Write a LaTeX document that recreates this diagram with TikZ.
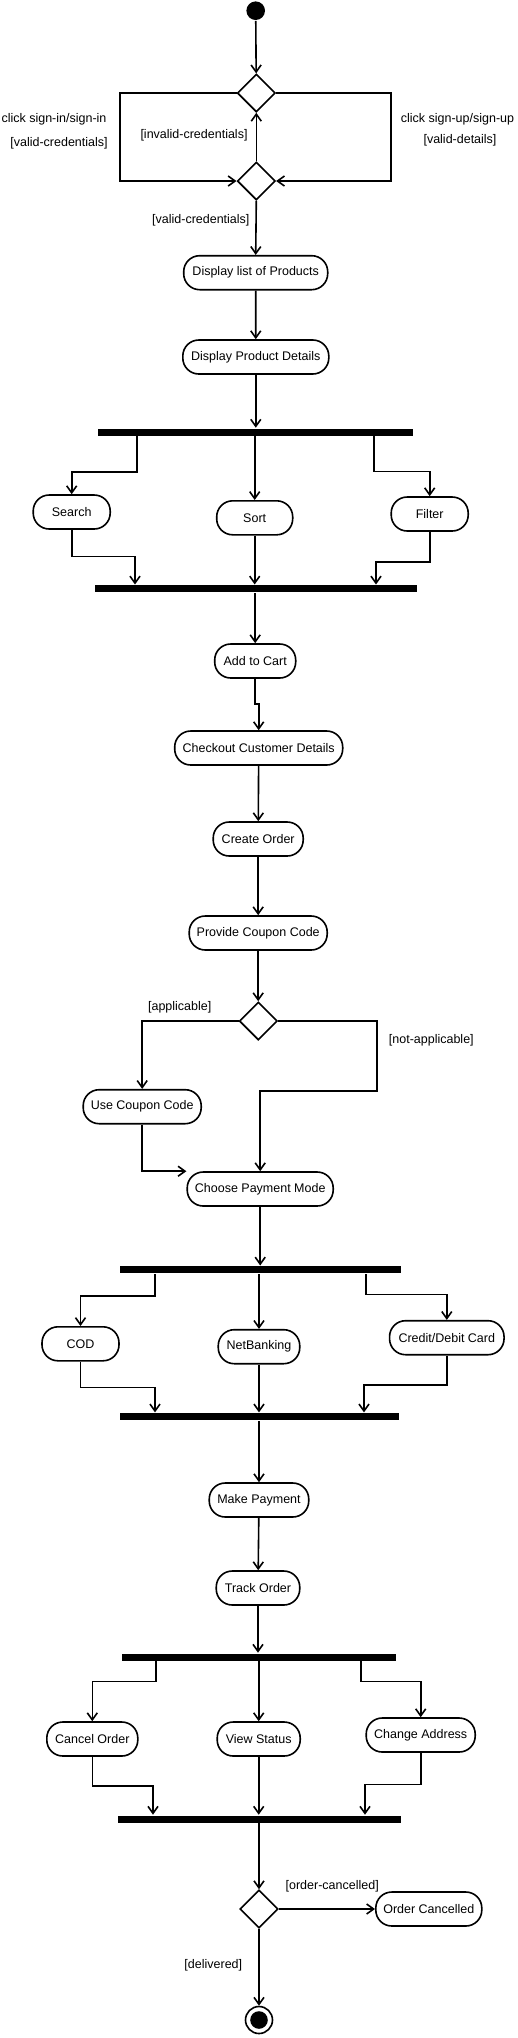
\documentclass[tikz,border=0pt]{standalone}
\usepackage{fontspec}
\setmainfont{Liberation Sans}
\usetikzlibrary{positioning, arrows.meta, shapes.geometric}

\tikzset{
    txt/.style={font=\fontsize{12.5}{15}\selectfont},
    activity/.style={txt, draw, rectangle, rounded corners=16pt, minimum height=34pt, inner sep=2pt},
    decision/.style={draw, diamond, minimum width=38pt, minimum height=38pt, inner sep=0pt},
    syncbar/.style={fill, minimum height=7pt, inner sep=0pt},
    guardtext/.style={txt, inner sep=0pt},
    startnode/.style={circle, fill, minimum size=18.6pt, inner sep=0pt},
    endnode/.style={circle, draw, minimum size=27pt, inner sep=0pt,
        path picture={\fill (path picture bounding box.center) circle (8.8pt);}},
    >={Straight Barb[length=7pt,width=10pt]}
}

\begin{document}
\begin{tikzpicture}[x=1pt, y=-1pt, line width=1.6pt]
    \useasboundingbox (0,0) rectangle (518,2038);

    % login
    \node[startnode] (start) at (255.7,10.7) {};
    \node[decision] (d1) at (256.3,93) {};
    \node[decision] (d2) at (256.3,181) {};
    \node[guardtext] (lsin) at (54,119.3) {click sign-in/sign-in};
    \node[guardtext] (lsinv) at (59,143.3) {[valid-credentials]};
    \node[guardtext] (lsup) at (457.5,119.3) {click sign-up/sign-up};
    \node[guardtext] (lsupv) at (460,140.3) {[valid-details]};
    \node[guardtext] (linv) at (194,135.7) {[invalid-credentials]};
    \node[guardtext] (lval) at (200.8,220.3) {[valid-credentials]};

    % products
    \node[activity, minimum width=144pt] (dlp) at (255.7,272.7) {Display list of Products};
    \node[activity, minimum width=146pt] (dpd) at (255.8,357) {Display Product Details};
    \node[syncbar, minimum width=314.4pt] (fork1) at (255.5,432) {};
    \node[activity, minimum width=77pt] (search) at (71.7,512) {Search};
    \node[activity, minimum width=76pt] (sort) at (254.7,517.8) {Sort};
    \node[activity, minimum width=77pt] (filter) at (429.7,514) {Filter};
    \node[syncbar, minimum width=321.4pt] (join1) at (256,588.8) {};

    % order
    \node[activity, minimum width=81pt] (cart) at (255.2,661) {Add to Cart};
    \node[activity, minimum width=168pt] (checkout) at (258.7,748) {Checkout Customer Details};
    \node[activity, minimum width=90pt] (create) at (258.2,839) {Create Order};
    \node[activity, minimum width=138pt] (provide) at (258.2,933) {Provide Coupon Code};
    \node[decision] (d3) at (258.3,1021) {};
    \node[guardtext] (lapp) at (179.7,1007.3) {[applicable]};
    \node[guardtext] (lnapp) at (431.3,1040.3) {[not-applicable]};
    \node[activity, minimum width=118pt] (ucc) at (142.2,1106.7) {Use Coupon Code};
    \node[activity, minimum width=146pt] (cpm) at (260.2,1189) {Choose Payment Mode};

    % payment
    \node[syncbar, minimum width=280.7pt] (fork2) at (260.3,1269.8) {};
    \node[activity, minimum width=77pt] (cod) at (80.5,1343.8) {COD};
    \node[activity, minimum width=81.5pt] (nb) at (259,1346.7) {NetBanking};
    \node[activity, minimum width=114.5pt] (card) at (446.8,1337.7) {Credit/Debit Card};
    \node[syncbar, minimum width=278.7pt] (join2) at (259.3,1416.7) {};
    \node[activity, minimum width=99.5pt] (pay) at (259,1500) {Make Payment};
    \node[activity, minimum width=83.5pt] (track) at (258,1588) {Track Order};

    % tracking
    \node[syncbar, minimum width=273.4pt] (fork3) at (259,1657) {};
    \node[activity, minimum width=91pt] (cancel) at (92.3,1739) {Cancel Order};
    \node[activity, minimum width=83pt] (view) at (258.7,1739) {View Status};
    \node[activity, minimum width=109pt] (change) at (420.7,1735) {Change Address};
    \node[syncbar, minimum width=282.4pt] (join3) at (259.5,1819) {};
    \node[decision] (d4) at (259,1909) {};
    \node[activity, minimum width=106pt] (cancelled) at (428.8,1909) {Order Cancelled};
    \node[guardtext] (lcanc) at (332.2,1886.7) {[order-cancelled]};
    \node[guardtext] (ldel) at (213.3,1965) {[delivered]};
    \node[endnode] (end) at (259,2020) {};

    \draw[->] (start) -- (d1);
    \draw[->] (d1.west) -- ++(-116.6,0) |- (d2.west);
    \draw[->] (d1.east) -- ++(114.7,0) |- (d2.east);
    \draw[->] (d2.north) -- (d1.south);
    \draw[->] (d2.south) -- (dlp.north);
    \draw[->] (dlp) -- (dpd);
    \draw[->] (dpd.south) -- (dpd.south |- fork1.north);

    \draw[->] ([xshift=-118.8pt]fork1.south) -- ++(0,35.6) -| (search.north);
    \draw[->] (sort.north |- fork1.south) -- (sort.north);
    \draw[->] ([xshift=118.2pt]fork1.south) -- ++(0,35) -| (filter.north);
    \draw[->] (search.south) -- ++(0,26.6) -| ([xshift=-121pt]join1.north);
    \draw[->] (sort.south) -- (sort.south |- join1.north);
    \draw[->] (filter.south) -- ++(0,30) -| ([xshift=120pt]join1.north);
    \draw[->] (cart.north |- join1.south) -- (cart.north);

    \draw[->] (cart.south) -- ++(0,25.3) -| (checkout.north);
    \draw[->] (checkout) -- (create);
    \draw[->] (create) -- (provide);
    \draw[->] (provide.south) -- (provide.south |- d3.north);
    \draw[->] (d3.west) -| (ucc.north);
    \draw[->] (d3.east) -- ++(98.7,0) -- ++(0,69.7) -| (cpm.north);
    \draw[->] (ucc.south) |- (cpm.north west);

    \draw[->] (cpm.south) -- (cpm.south |- fork2.north);
    \draw[->] ([xshift=-105.3pt]fork2.south) -- ++(0,21.7) -| (cod.north);
    \draw[->] (nb.north |- fork2.south) -- (nb.north);
    \draw[->] ([xshift=105.7pt]fork2.south) -- ++(0,20.4) -| (card.north);
    \draw[->] (cod.south) -- ++(0,26) -| ([xshift=-104.3pt]join2.north);
    \draw[->] (nb.south) -- (nb.south |- join2.north);
    \draw[->] (card.south) -- ++(0,29.6) -| ([xshift=104.7pt]join2.north);
    \draw[->] (pay.north |- join2.south) -- (pay.north);
    \draw[->] (pay) -- (track);

    \draw[->] (track.south) -- (track.south |- fork3.north);
    \draw[->] ([xshift=-103.3pt]fork3.south) -- ++(0,20) -| (cancel.north);
    \draw[->] (view.north |- fork3.south) -- (view.north);
    \draw[->] ([xshift=101.7pt]fork3.south) -- ++(0,20) -| (change.north);
    \draw[->] (cancel.south) -- ++(0,29) -| ([xshift=-106.5pt]join3.north);
    \draw[->] (view.south) -- (view.south |- join3.north);
    \draw[->] (change.south) -- ++(0,31.7) -| ([xshift=105.5pt]join3.north);
    \draw[->] (d4.north |- join3.south) -- (d4.north);
    \draw[->] (d4.east) -- (cancelled.west);
    \draw[->] (d4.south) -- (end.north);
\end{tikzpicture}
\end{document}
